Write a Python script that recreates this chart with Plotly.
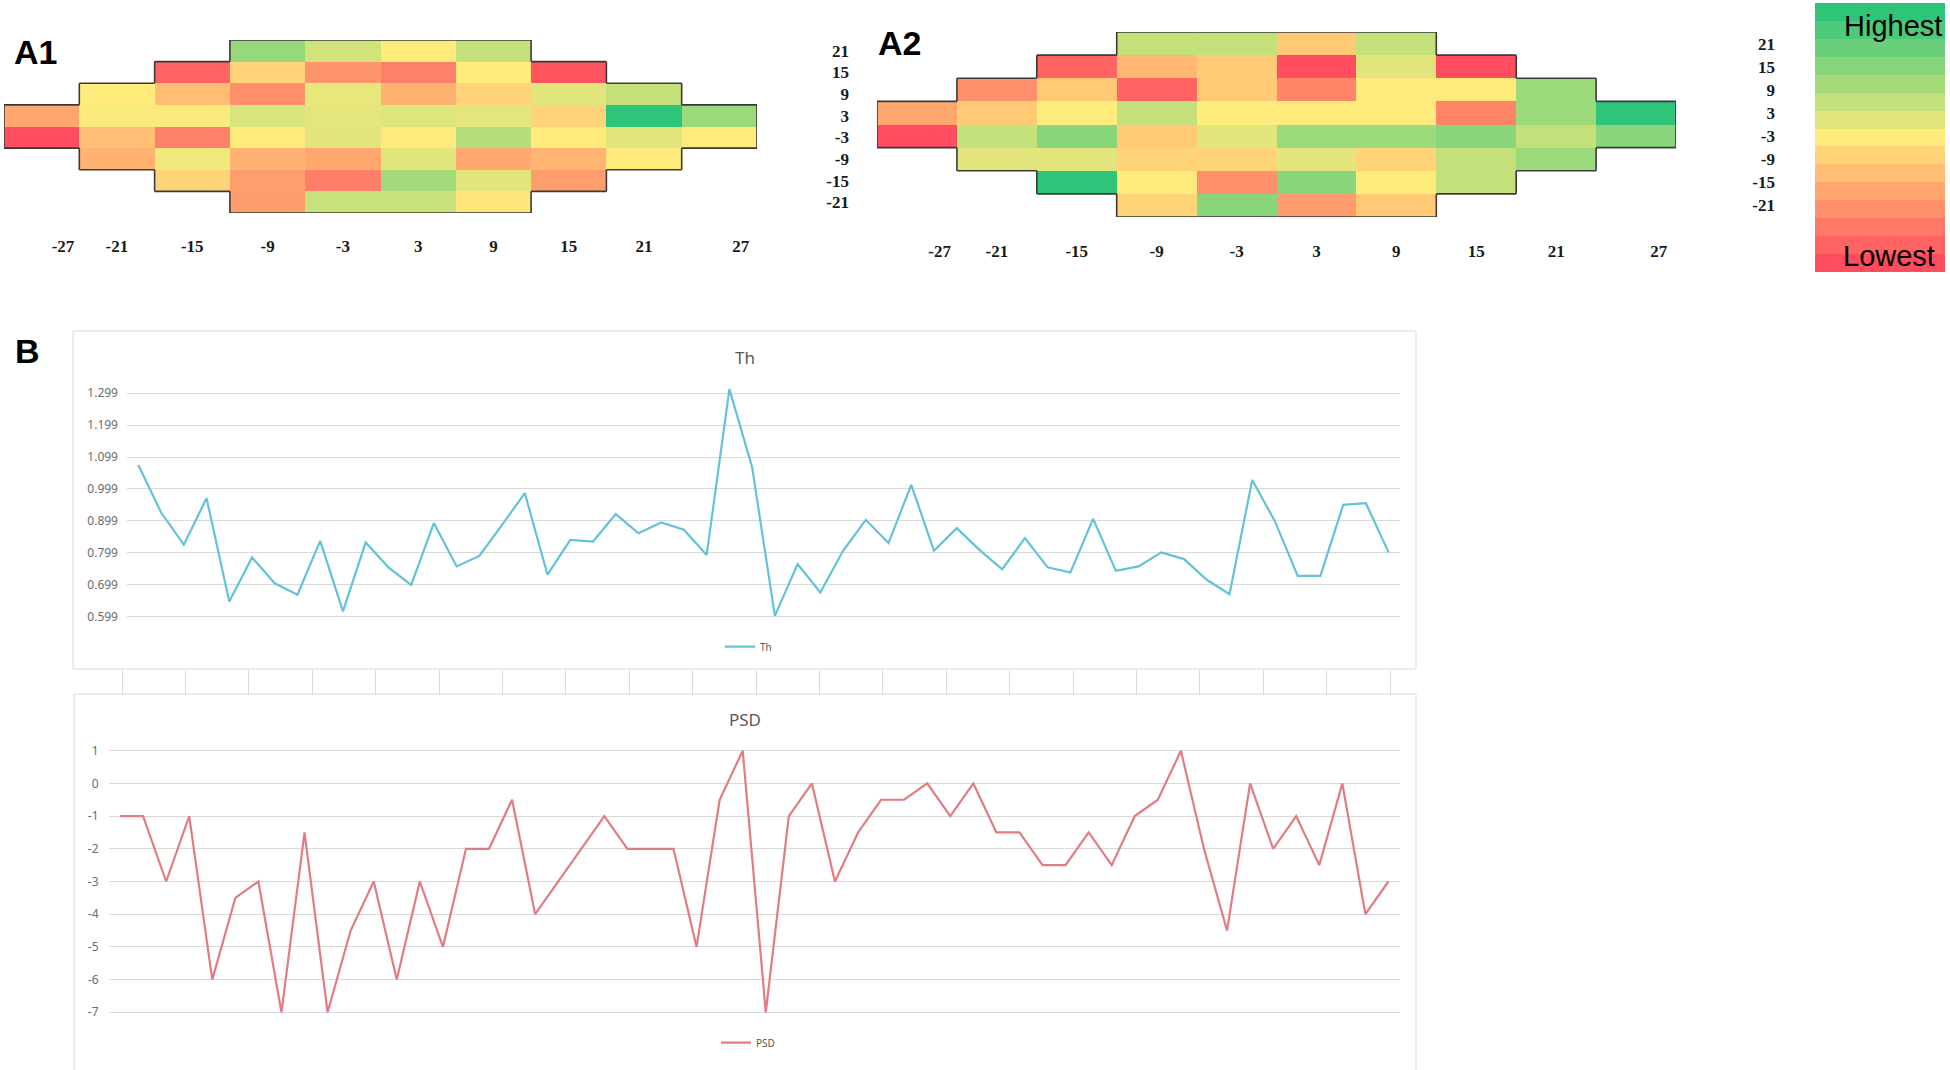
import plotly.graph_objects as go

W, H = 1950, 1070

# ---------------- data ----------------
x_deg = [-27, -21, -15, -9, -3, 3, 9, 15, 21, 27]
y_deg = [21, 15, 9, 3, -3, -9, -15, -21]

# relative sensitivity level (0 = lowest ... 14 = highest)
a1_r21 = [None, None, None, 10.5, 8.5, 7, 9, None, None, None]
a1_r15 = [None, None, 1, 6, 3.2, 2.3, 7, 0.3, None, None]
a1_r9 = [None, 7, 5, 3, 7.8, 4.5, 6, 8, 9, None]
a1_r3 = [4, 7.2, 7.2, 8.3, 7.9, 8.1, 7.9, 6, 14, 10.3]
a1_rm3 = [0, 5, 2.3, 7, 8, 7, 9.5, 7, 8, 7]
a1_rm9 = [None, 4.5, 7.5, 4.5, 4, 8, 4, 4.6, 7, None]
a1_rm15 = [None, None, 6, 3.6, 2.2, 10, 8, 3.6, None, None]
a1_rm21 = [None, None, None, 3.5, 8.8, 8.8, 6.8, None, None, None]

a2_r21 = [None, None, None, 9, 9, 5.5, 9, None, None, None]
a2_r15 = [None, None, 1, 4.7, 5.6, 0, 8, 0, None, None]
a2_r9 = [None, 3, 5.5, 1, 5.5, 2.5, 7, 7, 10.3, None]
a2_r3 = [4, 5.5, 7, 9, 7, 7, 7, 2.5, 10.3, 14]
a2_rm3 = [0, 9, 11, 5.5, 8, 10.3, 10.3, 11, 9, 11]
a2_rm9 = [None, 8, 8, 6, 6, 8, 6, 9, 10.3, None]
a2_rm15 = [None, None, 14, 7, 3, 11, 7, 9, None, None]
a2_rm21 = [None, None, None, 6, 11, 3.5, 5.5, None, None, None]

legend_levels = list(range(15))

points = list(range(1, 57))
th_values = [1.074, 0.925, 0.824, 0.970, 0.646, 0.784, 0.703, 0.667, 0.836, 0.615,
             0.831, 0.753, 0.698, 0.892, 0.756, 0.789, 0.886, 0.986, 0.730, 0.839,
             0.834, 0.920, 0.860, 0.894, 0.871, 0.792, 1.312, 1.067, 0.601, 0.763,
             0.674, 0.805, 0.902, 0.829, 1.012, 0.805, 0.876, 0.808, 0.747, 0.845,
             0.753, 0.737, 0.905, 0.742, 0.756, 0.800, 0.779, 0.714, 0.669, 1.027,
             0.897, 0.726, 0.726, 0.949, 0.954, 0.800]
psd_values = [-1, -1, -3, -1, -6, -3.5, -3, -7, -1.5, -7,
              -4.5, -3, -6, -3, -5, -2, -2, -0.5, -4, -3,
              -2, -1, -2, -2, -2, -5, -0.5, 1, -7, -1,
              0, -3, -1.5, -0.5, -0.5, 0, -1, 0, -1.5, -1.5,
              -2.5, -2.5, -1.5, -2.5, -1, -0.5, 1, -2, -4.5, 0,
              -2, -1, -2.5, 0, -4, -3]
th_ticks = [0.599, 0.699, 0.799, 0.899, 0.999, 1.099, 1.199, 1.299]
psd_ticks = [1, 0, -1, -2, -3, -4, -5, -6, -7]

a1_grid = [a1_r21, a1_r15, a1_r9, a1_r3, a1_rm3, a1_rm9, a1_rm15, a1_rm21]
a2_grid = [a2_r21, a2_r15, a2_r9, a2_r3, a2_rm3, a2_rm9, a2_rm15, a2_rm21]

# ---------------- helpers ----------------
def fx(px):
    return px / W


def fy(py):
    return 1 - py / H


colorscale = [[0.0, "#FF4C5E"], [0.5, "#FFEB7C"], [1.0, "#2EC47A"]]


def outline(grid):
    hx = (x_deg[1] - x_deg[0]) / 2
    hy = (y_deg[0] - y_deg[1]) / 2
    nr, nc = len(grid), len(grid[0])

    def present(i, j):
        return 0 <= i < nr and 0 <= j < nc and grid[i][j] is not None

    xs, ys = [], []
    for i in range(nr):
        for j in range(nc):
            if not present(i, j):
                continue
            cx, cy = x_deg[j], y_deg[i]
            if not present(i - 1, j):
                xs += [cx - hx, cx + hx, None]; ys += [cy + hy, cy + hy, None]
            if not present(i + 1, j):
                xs += [cx - hx, cx + hx, None]; ys += [cy - hy, cy - hy, None]
            if not present(i, j - 1):
                xs += [cx - hx, cx - hx, None]; ys += [cy - hy, cy + hy, None]
            if not present(i, j + 1):
                xs += [cx + hx, cx + hx, None]; ys += [cy - hy, cy + hy, None]
    return xs, ys


fig = go.Figure()

# heatmaps A1 / A2
for grid, xa, ya in [(a1_grid, "x", "y"), (a2_grid, "x2", "y2")]:
    fig.add_trace(go.Heatmap(z=grid, x=x_deg, y=y_deg, colorscale=colorscale,
                             zmin=0, zmax=14, showscale=False, xaxis=xa, yaxis=ya,
                             hoverongaps=False))
    ox, oy = outline(grid)
    fig.add_trace(go.Scatter(x=ox, y=oy, mode="lines", xaxis=xa, yaxis=ya,
                             line=dict(color="#3a3a3a", width=1.6),
                             showlegend=False, hoverinfo="skip"))

# colour legend bar
fig.add_trace(go.Heatmap(z=[[v] for v in legend_levels], x=[0], y=legend_levels,
                         colorscale=colorscale, zmin=0, zmax=14, showscale=False,
                         xaxis="x3", yaxis="y3", hoverinfo="skip"))

# Th line
fig.add_trace(go.Scatter(x=points, y=th_values, mode="lines", name="Th",
                         line=dict(color="#62c3d8", width=2.2),
                         xaxis="x4", yaxis="y4", legend="legend"))
# helper for the tick strip below the Th chart
fig.add_trace(go.Scatter(x=[0], y=[0], mode="markers", marker=dict(opacity=0),
                         xaxis="x6", yaxis="y6", showlegend=False, hoverinfo="skip"))
# PSD line
fig.add_trace(go.Scatter(x=points, y=psd_values, mode="lines", name="PSD",
                         line=dict(color="#e07c82", width=2.2),
                         xaxis="x5", yaxis="y5", legend="legend2"))

lab_font = dict(family="Liberation Serif", size=17, color="#1a1a1a", weight="bold")
tick_pos = [v + (1.7 if abs(v) == x_deg[-1] else 0) for v in x_deg]
tick_txt = [str(v) for v in x_deg]

hm_x = dict(range=[-30, 30], showgrid=False, zeroline=False, showline=False,
            ticks="", tickvals=tick_pos, ticktext=tick_txt, tickfont=lab_font,
            anchor="free", side="bottom", fixedrange=True)
hm_y = dict(range=[-24, 24], showgrid=False, zeroline=False, showline=False,
            ticks="", tickvals=y_deg, ticktext=[str(v) for v in y_deg],
            tickfont=lab_font, anchor="free", side="left", fixedrange=True)

axis_font = dict(family="Noto Sans", size=12, color="#6b6b6b")

fig.update_layout(
    width=W, height=H, margin=dict(l=0, r=0, t=0, b=0),
    paper_bgcolor="white", plot_bgcolor="rgba(0,0,0,0)",
    xaxis=dict(hm_x, domain=[fx(4), fx(757)], position=fy(234)),
    yaxis=dict(hm_y, domain=[fy(213), fy(40)], position=fx(849)),
    xaxis2=dict(hm_x, domain=[fx(877), fx(1676)], position=fy(239)),
    yaxis2=dict(hm_y, domain=[fy(217), fy(32)], position=fx(1775)),
    xaxis3=dict(domain=[fx(1815), fx(1945)], anchor="y3", visible=False),
    yaxis3=dict(domain=[fy(272), fy(3)], anchor="x3", visible=False,
                range=[-0.5, 14.5]),
    xaxis4=dict(domain=[fx(127), fx(1400)], anchor="y4", range=[0.5, 56.5],
                showgrid=False, zeroline=False, showticklabels=False, ticks=""),
    yaxis4=dict(domain=[fy(625.7), fy(383.4)], anchor="x4", range=[0.57, 1.33],
                tickvals=th_ticks, ticktext=["%.3f" % t for t in th_ticks],
                showgrid=True, gridcolor="#d9d9d9", gridwidth=1, zeroline=False,
                ticks="", tickfont=axis_font, ticklabelstandoff=8),
    xaxis6=dict(domain=[fx(122), fx(1390)], anchor="y6", range=[0, 20],
                tick0=0, dtick=1, ticks="outside", ticklen=25, tickwidth=1,
                tickcolor="#d9d9d9", showticklabels=False, showgrid=False,
                zeroline=False, showline=False, fixedrange=True),
    yaxis6=dict(domain=[fy(669), fy(662)], anchor="x6", visible=False,
                range=[-1, 1], fixedrange=True),
    xaxis5=dict(domain=[fx(108.5), fx(1400)], anchor="y5", range=[0.5, 56.5],
                showgrid=False, zeroline=False, showticklabels=False, ticks=""),
    yaxis5=dict(domain=[fy(1022.1), fy(740.9)], anchor="x5", range=[-7.3, 1.3],
                tickvals=psd_ticks, ticktext=[str(t) for t in psd_ticks],
                showgrid=True, gridcolor="#d9d9d9", gridwidth=1, zeroline=False,
                ticks="", tickfont=axis_font, ticklabelstandoff=9),
    legend=dict(x=fx(720), y=fy(646.7), xanchor="left", yanchor="middle",
                bgcolor="rgba(0,0,0,0)", itemwidth=30,
                font=dict(family="Noto Sans", size=10, color="#595959")),
    legend2=dict(x=fx(716), y=fy(1042.7), xanchor="left", yanchor="middle",
                 bgcolor="rgba(0,0,0,0)", itemwidth=30,
                 font=dict(family="Noto Sans", size=10, color="#595959")),
    shapes=[
        dict(type="rect", xref="paper", yref="paper", x0=fx(73), x1=fx(1416),
             y0=fy(669), y1=fy(331), line=dict(color="#d9d9d9", width=1)),
        dict(type="rect", xref="paper", yref="paper", x0=fx(74), x1=fx(1416),
             y0=fy(1080), y1=fy(694), line=dict(color="#d9d9d9", width=1)),
    ],
)

panel_font = dict(family="Liberation Sans", size=34, color="black", weight="bold")
title_font = dict(family="Noto Sans", size=17, color="#595959")
ann = [
    dict(text="A1", x=fx(12), y=fy(52), xanchor="left", yanchor="middle", font=panel_font),
    dict(text="A2", x=fx(876), y=fy(43), xanchor="left", yanchor="middle", font=panel_font),
    dict(text="B", x=fx(13), y=fy(351), xanchor="left", yanchor="middle", font=panel_font),
    dict(text="Th", x=fx(745), y=fy(357), xanchor="center", yanchor="middle", font=title_font),
    dict(text="PSD", x=fx(745), y=fy(719), xanchor="center", yanchor="middle", font=title_font),
    dict(text="Highest", x=fx(1944), y=fy(26), xanchor="right", yanchor="middle",
         font=dict(family="Liberation Sans", size=29, color="black")),
    dict(text="Lowest", x=fx(1937), y=fy(256), xanchor="right", yanchor="middle",
         font=dict(family="Liberation Sans", size=29, color="black")),
]
for a in ann:
    a.update(xref="paper", yref="paper", showarrow=False)
fig.update_layout(annotations=ann)

fig.write_html("out.html", config={"displayModeBar": False},
               post_script="document.body.style.margin='0';document.body.style.overflow='hidden';")
